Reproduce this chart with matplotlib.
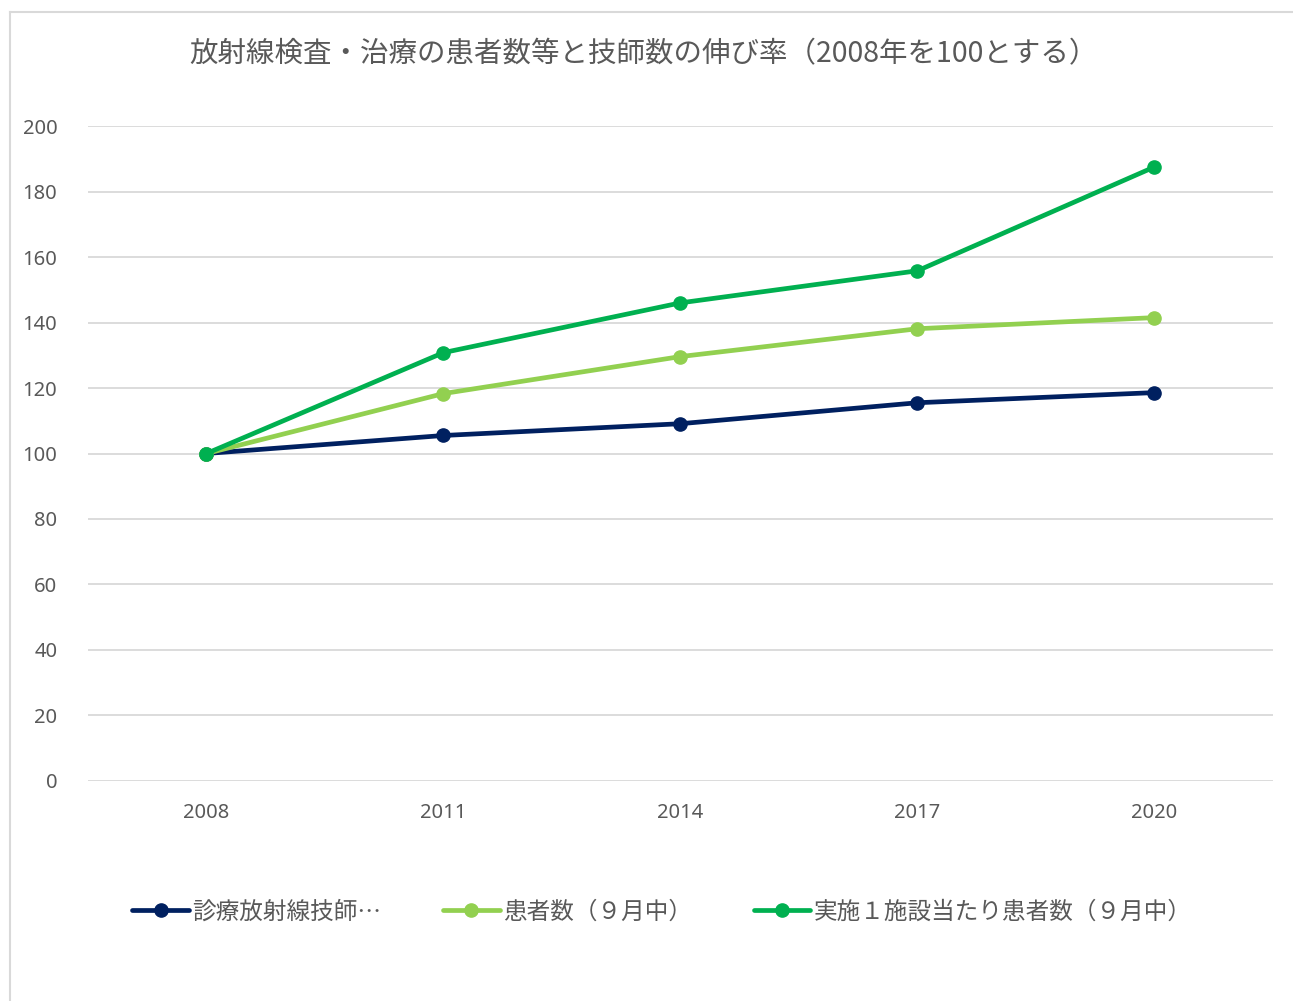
import matplotlib.pyplot as plt
from matplotlib.lines import Line2D

plt.rcParams['font.family'] = ['Noto Sans CJK JP', 'DejaVu Sans']

# data (2008 = 100)
years = ['2008', '2011', '2014', '2017', '2020']
gishi = [100, 105.5, 109.1, 115.5, 118.6]
kanja = [100, 118.3, 129.6, 138.1, 141.5]
shisetsu = [100, 130.8, 146.0, 155.8, 187.5]
labels = ['診療放射線技師…', '患者数（９月中）', '実施１施設当たり患者数（９月中）']
colors = ['#002060', '#92D050', '#00B050']

title = '放射線検査・治療の患者数等と技師数の伸び率（2008年を100とする）'
grey = '#595959'

fig = plt.figure(figsize=(12.93, 10.01), dpi=100)
ax = fig.add_axes([0.068, 0.2198, 0.9165, 0.6543])

x = range(len(years))
for vals, c, lab in zip([gishi, kanja, shisetsu], colors, labels):
    ax.plot(x, vals, color=c, lw=3.4, marker='o', ms=9.5, label=lab,
            solid_capstyle='round')

ax.set_xlim(-0.5, len(years) - 0.5)
ax.set_ylim(0, 200)
ax.set_yticks(range(0, 201, 20))
ax.set_xticks(list(x))
ax.set_xticklabels(years)
ax.grid(axis='y', color='#d9d9d9', lw=1.3)
ax.set_axisbelow(True)
for s in ax.spines.values():
    s.set_visible(False)
ax.tick_params(length=0, labelsize=14.5, labelcolor=grey)
ax.tick_params(axis='y', pad=22)
ax.tick_params(axis='x', pad=16)
for t in ax.get_xticklabels() + ax.get_yticklabels():
    t.set_family(['Noto Sans', 'DejaVu Sans'])

fig.text(0.498, 0.946, title, ha='center', va='center', fontsize=20.5, color=grey)

leg = fig.legend(loc='center', bbox_to_anchor=(0.512, 0.089), ncol=3,
                 frameon=False, fontsize=17, handlelength=2.4,
                 handletextpad=0.15, columnspacing=2.6)
for t in leg.get_texts():
    t.set_color(grey)

# outer chart border (left and top visible)
fig.add_artist(Line2D([10 / 1293, 10 / 1293], [0, 1 - 12 / 1001],
                      transform=fig.transFigure, color='#d9d9d9', lw=1.5))
fig.add_artist(Line2D([10 / 1293, 1], [1 - 12 / 1001, 1 - 12 / 1001],
                      transform=fig.transFigure, color='#d9d9d9', lw=1.5))

fig.savefig('out.png', dpi=100)
